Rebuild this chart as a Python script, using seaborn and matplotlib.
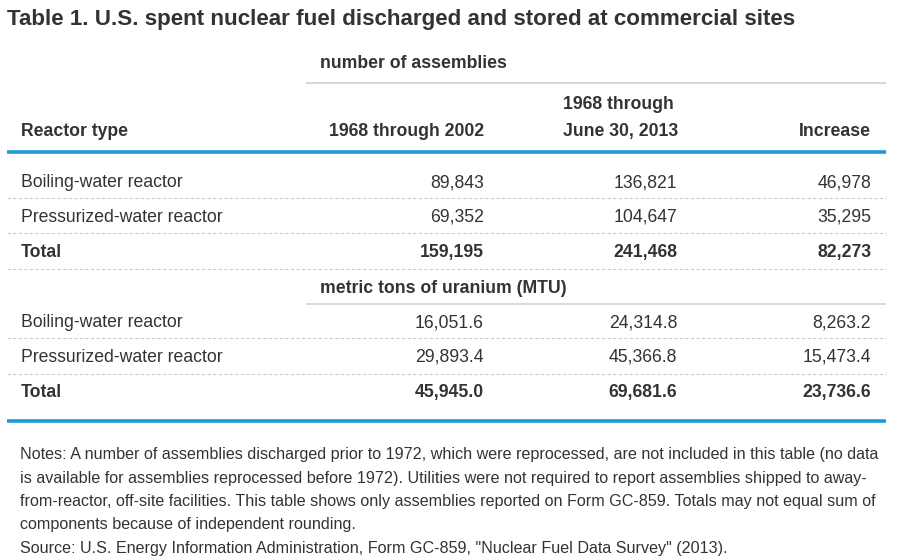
import matplotlib
matplotlib.use("Agg")
import matplotlib.pyplot as plt
import seaborn as sns

# ---- data ----
title = "Table 1. U.S. spent nuclear fuel discharged and stored at commercial sites"
reactor_types = ["Boiling-water reactor", "Pressurized-water reactor", "Total"]
col_headers = ["Reactor type", "1968 through 2002", "1968 through\nJune 30, 2013", "Increase"]
section_labels = ["number of assemblies", "metric tons of uranium (MTU)"]
assemblies_2002 = [89843, 69352, 159195]
assemblies_2013 = [136821, 104647, 241468]
assemblies_increase = [46978, 35295, 82273]
mtu_2002 = [16051.6, 29893.4, 45945.0]
mtu_2013 = [24314.8, 45366.8, 69681.6]
mtu_increase = [8263.2, 15473.4, 23736.6]
notes_lines = [
    "Notes: A number of assemblies discharged prior to 1972, which were reprocessed, are not included in this table (no data",
    "is available for assemblies reprocessed before 1972). Utilities were not required to report assemblies shipped to away-",
    "from-reactor, off-site facilities. This table shows only assemblies reported on Form GC-859. Totals may not equal sum of",
    "components because of independent rounding.",
    "Source: U.S. Energy Information Administration, Form GC-859, \"Nuclear Fuel Data Survey\" (2013).",
]

sns.set_theme(style="white")
plt.rcParams["font.family"] = ["Liberation Sans", "DejaVu Sans"]

TXT = "#333333"
BLUE = "#1a9ad6"
GRAY = "#d2d2d2"
DASH = "#cccccc"

fig = plt.figure(figsize=(9, 5.6), dpi=100)
ax = fig.add_axes([0, 0, 1, 1])
ax.set_xlim(0, 900)
ax.set_ylim(560, 0)
ax.axis("off")

FS = 12.7
ax.text(7, 25.5, title, fontsize=16.1, fontweight="bold", color=TXT, va="baseline", ha="left")

# section 1 header
ax.text(320, 68, section_labels[0], fontsize=FS, fontweight="bold", color=TXT, va="baseline")
ax.hlines(83, 306, 886, color=GRAY, lw=1.2)

# column headers
ax.text(21, 136, col_headers[0], fontsize=FS, fontweight="bold", color=TXT, va="baseline")
ax.text(484, 136, col_headers[1], fontsize=FS, fontweight="bold", color=TXT, va="baseline", ha="right")
h2a, h2b = col_headers[2].split("\n")
ax.text(563, 109, h2a, fontsize=FS, fontweight="bold", color=TXT, va="baseline", ha="left")
ax.text(563, 136, h2b, fontsize=FS, fontweight="bold", color=TXT, va="baseline", ha="left")
ax.text(871, 136, col_headers[3], fontsize=FS, fontweight="bold", color=TXT, va="baseline", ha="right")
ax.hlines(152, 7, 886, color=BLUE, lw=2.6)

col_x = [484, 677, 871]


def draw_block(baselines, dash_ys, c1, c2, c3, fmt):
    for i, (name, a, b, c) in enumerate(zip(reactor_types, c1, c2, c3)):
        w = "bold" if name == "Total" else "normal"
        y = baselines[i]
        ax.text(21, y, name, fontsize=FS, fontweight=w, color=TXT, va="baseline")
        for x, v in zip(col_x, (a, b, c)):
            ax.text(x, y, fmt.format(v), fontsize=FS, fontweight=w, color=TXT,
                    va="baseline", ha="right")
    for yd in dash_ys:
        ax.hlines(yd, 7, 886, color=DASH, lw=0.8, linestyles=(0, (3, 2)))


draw_block([187, 222, 257], [198, 233, 269], assemblies_2002, assemblies_2013,
           assemblies_increase, "{:,.0f}")

ax.text(320, 293, section_labels[1], fontsize=FS, fontweight="bold", color=TXT, va="baseline")
ax.hlines(304, 306, 886, color=GRAY, lw=1.2)

draw_block([327, 362, 397], [338, 374], mtu_2002, mtu_2013, mtu_increase, "{:,.1f}")
ax.hlines(421, 7, 886, color=BLUE, lw=2.6)

for i, line in enumerate(notes_lines):
    ax.text(20, 459 + 23.5 * i, line, fontsize=11.6, color=TXT, va="baseline", ha="left")

fig.savefig("out.png", dpi=100)
